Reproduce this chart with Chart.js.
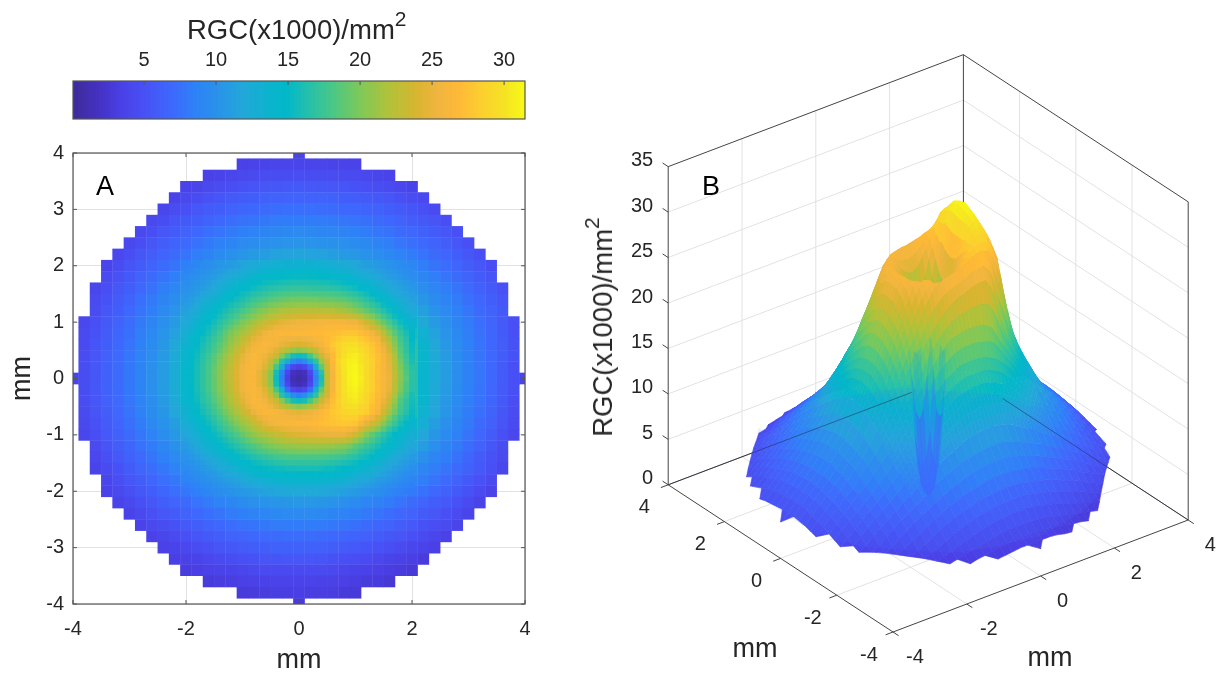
<!DOCTYPE html>
<html><head><meta charset="utf-8">
<script src="https://cdn.jsdelivr.net/npm/chart.js@4"></script>
<style>
html,body{margin:0;padding:0;background:#fff;width:1219px;height:677px;overflow:hidden}
canvas{position:absolute;display:block}
.t{position:absolute;font:27.5px "Liberation Sans",Arial,sans-serif;color:#262626;white-space:nowrap;line-height:32px}
.t sup{font-size:21px;line-height:0;vertical-align:baseline;position:relative;top:-13px}
</style></head><body>
<canvas id="bar" width="560" height="130" style="left:0;top:0"></canvas>
<canvas id="map" width="560" height="547" style="left:0;top:130px"></canvas>
<canvas id="surf" width="659" height="677" style="left:560px;top:0"></canvas>
<div class="t" style="left:187px;top:14px">RGC(x1000)/mm<sup>2</sup></div>
<div class="t" style="left:603px;top:327px;transform:translate(-50%,-50%) rotate(-90deg)">RGC(x1000)/mm<sup>2</sup></div>
<script>
// value range and ticks
const colorMin = 0.07, colorMax = 31.45;
const colorbarTicks = [5,10,15,20,25,30];
const mapXTicks = [-4,-2,0,2,4];
const mapYTicks = [-4,-3,-2,-1,0,1,2,3,4];
const surfXYTicks = [-4,-2,0,2,4];
const surfZTicks = [0,5,10,15,20,25,30,35];
const titleUnit = 'mm';
// colour map
const stopValues = [0,2,3.5,5,7,8.5,10,12,14,15,16.5,18,20,22,24,25.5,27,28.5,30,31.5];
const stopColors = ['#3d2b97','#4532c4','#4a40e6','#4850f5','#3e68fd','#2f80f8','#2a90ec','#22a8d8','#08b5cc','#02b8c8','#26c0ab','#45c78a','#7cc95a','#b0c23a','#d8b530','#f0b540','#ffb937','#fccf2f','#f5e125','#f8fa16'];
// density (x1000/mm2) on a 0.2 mm grid; rows run y = 4 .. -4, each centred on x = 0
const densityRows = [
[4],
[3.7,3.8,3.9,4,4,4,4,4,3.9,3.8,3.8],
[3.7,3.9,4.1,4.3,4.5,4.6,4.7,4.7,4.8,4.7,4.7,4.6,4.5,4.4,4.2,4,3.8],
[3.8,4,4.3,4.6,4.8,5.1,5.3,5.5,5.6,5.7,5.7,5.7,5.6,5.5,5.4,5.2,5,4.7,4.5,4.2,3.9],
[3.9,4.3,4.7,5.1,5.4,5.7,6,6.2,6.4,6.5,6.5,6.6,6.5,6.5,6.4,6.2,6.1,5.8,5.6,5.3,5,4.6,4.3],
[4.1,4.6,5,5.5,5.9,6.2,6.5,6.8,7,7.2,7.3,7.4,7.4,7.4,7.3,7.2,7,6.9,6.6,6.4,6.1,5.8,5.4,5,4.5],
[4.3,4.7,5.3,5.8,6.2,6.6,7,7.3,7.6,7.8,8,8.2,8.3,8.3,8.3,8.2,8.1,7.9,7.7,7.5,7.2,6.9,6.5,6.1,5.7,5.3,4.8],
[4.3,4.8,5.5,6,6.5,7,7.4,7.7,8.1,8.5,8.8,9,9.2,9.3,9.4,9.3,9.2,9.1,8.9,8.6,8.3,7.9,7.6,7.2,6.9,6.4,6,5.5,5],
[4.3,4.8,5.5,6.1,6.6,7.1,7.6,8.1,8.6,9,9.4,9.8,10,10.2,10.3,10.4,10.3,10.2,10.1,9.9,9.6,9.3,8.9,8.4,7.9,7.5,7.1,6.6,6.1,5.5,5],
[4.2,4.8,5.5,6.1,6.7,7.2,7.8,8.4,9,9.5,10,10.4,10.8,11.1,11.5,11.6,11.7,11.6,11.5,11.2,10.9,10.6,10.2,9.8,9.3,8.8,8.3,7.7,7.2,6.7,6.2,5.6,5],
[4,4.6,5.3,6,6.6,7.2,7.8,8.5,9.2,9.8,10.4,10.9,11.6,12.2,12.8,13,13.3,13.4,13.3,13.1,12.8,12.4,11.9,11.2,10.7,10.2,9.6,9.1,8.4,7.8,7.3,6.7,6.1,5.6,4.8],
[4.4,5.1,5.8,6.5,7.2,7.8,8.5,9.3,10,10.6,11.4,12.3,13,13.8,14.5,14.9,15.1,15.2,15.1,15,14.6,14.1,13.4,12.7,11.9,11.1,10.4,9.8,9.2,8.4,7.8,7.2,6.6,6,5.3],
[4.1,4.8,5.6,6.2,7,7.6,8.4,9.2,10,10.7,11.6,12.7,13.7,14.7,15.5,16.2,16.7,17.1,17.2,17.1,17,16.8,16.3,15.6,14.6,13.5,12.3,11.3,10.5,9.8,9.1,8.4,7.8,7.1,6.4,5.8,5.1],
[4.4,5.2,5.9,6.6,7.4,8.1,9,9.8,10.6,11.6,12.8,14,15.1,16.2,17.3,18.1,18.9,19.4,19.6,19.5,19.4,19.4,19,18.3,17.2,15.9,14.3,12.8,11.5,10.5,9.6,8.9,8.2,7.5,6.9,6.2,5.5],
[4.7,5.5,6.2,7,7.7,8.5,9.4,10.3,11.3,12.6,14,15.3,16.6,17.9,19.3,20.5,21.5,22,22.3,22.2,22.3,22.3,22.2,21.5,20.2,18.5,16.5,14.5,12.8,11.3,10.2,9.4,8.6,7.9,7.2,6.5,5.8],
[4.2,5,5.8,6.5,7.3,8.1,9,9.9,10.8,12.1,13.6,15,16.5,18.1,19.9,21.5,22.9,24.2,24.9,25.2,25.4,25.6,25.8,25.8,25.5,24.5,22.5,19.8,16.8,14.2,12.2,10.9,9.9,9,8.2,7.4,6.7,5.9,5],
[4.4,5.2,6,6.8,7.5,8.4,9.3,10.3,11.4,12.8,14.4,15.9,17.7,20,21.7,23.6,25.4,26.3,26.5,26.6,26.8,27,27.3,27.8,28,27.3,26,23.6,19.5,15.8,13.2,11.5,10.3,9.3,8.4,7.6,6.8,6,5],
[4.5,5.4,6.2,7,7.7,8.6,9.6,10.6,11.9,13.4,15,16.8,18.7,21,23.3,25.6,26.4,25.7,24.2,23.8,24.5,26,28,29.5,29.8,28.8,27.5,25,20.5,16.5,13.8,12,10.6,9.5,8.6,7.7,6.9,6.1,5.2],
[4.6,5.5,6.3,7.1,7.9,8.8,9.8,10.8,12.3,14,15.6,17.5,19.8,22.2,24.8,26.5,25.4,22.4,18.3,15,18.5,23,27,30,30.8,29.3,27.6,25.2,20.5,16.8,14,12.2,10.8,9.6,8.7,7.8,7,6.1,5.2],
[4.7,5.6,6.4,7.2,8,9,10,11,12.5,14.2,15.9,17.9,20.4,22.8,25.5,26.4,23.8,18,4.5,2.5,4.8,18.5,26,30.3,31.2,29.5,27.2,25,20.3,16.6,14,12.3,11,9.7,8.7,7.9,7,6,5],
[4,4.7,5.6,6.4,7.2,8,9,10,11,12.6,14.3,16,18,20.5,23,25.5,26.3,23,14,2.5,0.8,2.5,14.5,26,30,31.4,29.5,27,25,20,16.5,14,12.3,11,9.7,8.7,7.9,7,6,5,4],
[4.7,5.6,6.4,7.2,8,9,10,11,12.5,14.2,15.9,17.9,20.3,22.7,25.4,26.4,23.9,18.5,5.5,3,5.5,19,26,30,31,29.6,27.2,25,20.2,16.5,14,12.2,10.9,9.6,8.6,7.8,6.9,5.9,4.9],
[4.6,5.5,6.3,7.1,7.9,8.8,9.8,10.8,12.2,13.9,15.5,17.4,19.6,22,24.5,26.4,25.7,23,20,17.5,20,24,27.3,29.8,30.5,29.3,27.5,25,20,16.3,13.8,12,10.6,9.5,8.5,7.7,6.8,5.8,4.8],
[4.5,5.3,6.1,6.9,7.7,8.6,9.6,10.5,11.8,13.3,15,16.6,18.5,20.8,22.9,25.2,26.5,26.2,25.2,24.7,25.3,26.6,28,29,29.3,28.7,27.3,24.3,19.5,16,13.5,11.8,10.4,9.3,8.3,7.5,6.6,5.6,4.6],
[4.3,5.1,5.9,6.7,7.5,8.3,9.3,10.2,11.2,12.7,14.2,15.6,17.3,19.2,21.2,22.9,24.8,25.9,26.4,26.6,26.8,27.2,27.7,28,28,27.3,25.7,22.5,18.5,15.2,12.9,11.2,10,9,8.1,7.2,6.3,5.3,4.4],
[4.1,4.8,5.7,6.4,7.2,7.9,8.8,9.8,10.7,11.8,13.2,14.6,16,17.5,19.1,20.8,22,23,23.8,24.1,24.3,24.7,25,25.2,25,24,21.8,19,16,13.6,11.8,10.5,9.5,8.6,7.7,6.9,6,5,4.2],
[4.5,5.3,6.1,6.8,7.6,8.3,9.2,10.1,10.9,12.2,13.4,14.7,15.9,17.2,18.4,19.5,20.4,20.9,21.1,21.2,21.4,21.5,21.3,20.8,19.6,18,16,14,12.3,11,9.9,9,8.1,7.3,6.5,5.6,4.7],
[4.2,5,5.7,6.4,7.1,7.8,8.6,9.4,10.2,11,12.2,13.3,14.4,15.4,16.3,17.1,17.7,18.1,18.2,18.2,18.2,18.1,17.8,17.2,16.3,15,13.6,12.2,11,10,9.1,8.4,7.6,6.8,6,5.2,4.4],
[3.9,4.5,5.2,6,6.7,7.3,8,8.8,9.5,10.2,11,11.9,12.8,13.7,14.5,15.1,15.5,15.8,15.9,15.9,15.8,15.6,15.2,14.6,13.8,12.8,11.7,10.8,9.9,9.1,8.4,7.8,7.1,6.4,5.7,4.9,4.1],
[4.1,4.8,5.5,6.2,6.8,7.4,8,8.8,9.4,10,10.7,11.3,12,12.7,13.2,13.7,13.9,14,14,13.8,13.6,13.2,12.6,11.9,11.1,10.4,9.7,9,8.4,7.8,7.1,6.5,5.8,5.1,4.4],
[3.8,4.3,5,5.6,6.2,6.8,7.4,7.9,8.5,9.2,9.7,10.2,10.7,11,11.5,11.8,12,12.1,12.1,12,11.7,11.3,10.8,10.3,9.8,9.2,8.6,8.1,7.6,7,6.4,5.8,5.2,4.5,3.8],
[3.9,4.3,5,5.6,6.2,6.7,7.2,7.7,8.2,8.8,9.2,9.6,10,10.2,10.4,10.5,10.6,10.6,10.5,10.2,9.9,9.5,9.1,8.7,8.2,7.7,7.2,6.7,6.2,5.7,5.1,4.5,3.9],
[3.9,4.3,4.9,5.5,6,6.5,7,7.4,7.8,8.2,8.5,8.9,9.1,9.3,9.4,9.4,9.4,9.3,9,8.8,8.5,8.1,7.7,7.3,6.9,6.5,6,5.5,5,4.5,4],
[3.8,4.3,4.7,5.2,5.7,6.2,6.6,7,7.3,7.6,7.8,8,8.2,8.3,8.3,8.3,8.2,8,7.8,7.5,7.2,6.8,6.5,6.1,5.7,5.2,4.8,4.4,4],
[3.7,4.1,4.5,5,5.4,5.8,6.2,6.5,6.7,7,7.1,7.2,7.3,7.3,7.3,7.2,7,6.8,6.6,6.3,6,5.6,5.3,4.9,4.5,4.1,3.7],
[3.6,3.9,4.2,4.6,5,5.3,5.6,5.9,6.1,6.2,6.4,6.4,6.4,6.4,6.3,6.1,5.9,5.7,5.4,5.1,4.8,4.5,4.1,3.8,3.5],
[3.4,3.6,3.9,4.2,4.4,4.7,5,5.2,5.3,5.4,5.5,5.5,5.5,5.4,5.2,5,4.8,4.5,4.2,3.9,3.7,3.4,3.1],
[3.2,3.4,3.6,3.8,3.9,4.1,4.3,4.4,4.5,4.5,4.5,4.5,4.4,4.3,4.1,3.9,3.7,3.5,3.3,3.1,2.9],
[3,3.2,3.3,3.5,3.6,3.7,3.8,3.8,3.8,3.8,3.7,3.6,3.5,3.3,3.1,3,2.8],
[3,3.1,3.2,3.3,3.3,3.4,3.3,3.3,3.2,3,2.9],
[3]
];
// central region on a 0.1 mm grid; rows run y = 2 .. -2, columns x = -2 .. 2
const centreRows = [
[8.5,8.8,9.2,9.5,9.8,10.1,10.4,10.6,10.9,11.2,11.6,11.9,12.2,12.5,12.8,12.9,13,13.2,13.3,13.4,13.4,13.4,13.3,13.2,13.1,13,12.8,12.6,12.4,12.2,11.9,11.5,11.2,11,10.7,10.5,10.2,9.9,9.6,9.4,9.1],
[8.9,9.3,9.6,9.9,10.2,10.6,10.9,11.3,11.6,12,12.3,12.7,13,13.4,13.7,13.8,14,14.1,14.2,14.3,14.3,14.3,14.2,14.2,14.1,13.9,13.7,13.5,13.3,13,12.7,12.3,12,11.7,11.3,11,10.7,10.4,10,9.8,9.5],
[9.3,9.7,10,10.3,10.6,11,11.4,11.9,12.3,12.7,13,13.4,13.8,14.2,14.5,14.7,14.9,15,15.1,15.2,15.2,15.2,15.1,15.1,15,14.8,14.6,14.4,14.1,13.8,13.4,13.1,12.7,12.3,11.9,11.5,11.1,10.8,10.4,10.1,9.8],
[9.7,10,10.4,10.7,11.1,11.6,12.1,12.6,13,13.5,13.9,14.3,14.7,15.1,15.4,15.6,15.8,16,16.1,16.2,16.2,16.2,16.1,16.1,16,15.9,15.7,15.5,15.2,14.9,14.5,14.1,13.6,13.2,12.7,12.2,11.8,11.4,11,10.6,10.2],
[10,10.3,10.7,11.1,11.6,12.1,12.7,13.2,13.7,14.2,14.7,15.1,15.5,15.9,16.2,16.5,16.7,16.9,17.1,17.2,17.2,17.2,17.1,17,17,16.9,16.7,16.5,16.2,15.9,15.5,15,14.5,14,13.4,12.9,12.4,12,11.5,11,10.6],
[10.3,10.7,11.2,11.7,12.2,12.8,13.4,13.9,14.4,15,15.5,16,16.4,16.8,17.2,17.5,17.8,18,18.2,18.4,18.4,18.4,18.3,18.2,18.2,18.1,18,17.8,17.5,17.1,16.7,16.2,15.6,15,14.3,13.7,13.1,12.6,12,11.5,11],
[10.6,11.1,11.6,12.2,12.8,13.4,14,14.6,15.1,15.7,16.2,16.8,17.3,17.7,18.1,18.5,18.9,19.2,19.4,19.5,19.6,19.6,19.5,19.5,19.4,19.3,19.2,19,18.7,18.3,17.8,17.3,16.7,16,15.2,14.5,13.8,13.2,12.5,12,11.4],
[11,11.5,12.1,12.8,13.4,14,14.6,15.3,15.9,16.4,17,17.7,18.3,18.8,19.3,19.8,20.2,20.5,20.7,20.9,21,21,21,21,20.9,20.8,20.7,20.5,20.2,19.7,19.2,18.5,17.8,17.1,16.3,15.4,14.7,13.9,13.1,12.5,11.8],
[11.3,12,12.6,13.3,14,14.7,15.3,16,16.6,17.2,17.9,18.6,19.3,19.9,20.5,21,21.5,21.8,22,22.2,22.3,22.4,22.4,22.4,22.4,22.3,22.2,21.9,21.6,21.1,20.5,19.8,19,18.2,17.3,16.4,15.5,14.6,13.7,12.9,12.2],
[11.7,12.4,13.1,13.8,14.5,15.2,15.9,16.6,17.3,18.1,18.9,19.6,20.4,21,21.7,22.2,22.8,23.2,23.5,23.7,23.8,24,24,24,24.1,24.1,24,23.9,23.7,23.3,23,22.2,21.2,20.1,18.9,17.8,16.7,15.6,14.6,13.7,12.9],
[12.1,12.8,13.6,14.3,15,15.7,16.5,17.3,18.1,19,19.9,20.7,21.5,22.2,22.9,23.5,24.2,24.6,24.9,25.2,25.4,25.5,25.6,25.7,25.8,25.9,25.9,25.9,25.8,25.6,25.4,24.6,23.5,22,20.5,19.2,17.9,16.7,15.5,14.5,13.6],
[12.5,13.2,14,14.7,15.5,16.3,17.1,18.1,19,20,20.8,21.7,22.6,23.4,24.2,24.7,25.3,25.5,25.7,25.9,26,26.1,26.2,26.3,26.4,26.6,26.6,26.7,26.8,26.7,26.6,26,25,23.9,22.6,20.9,19.2,17.8,16.4,15.3,14.2],
[12.8,13.6,14.4,15.1,15.9,16.8,17.7,18.9,20,20.9,21.7,22.6,23.6,24.5,25.4,25.9,26.3,26.4,26.5,26.6,26.6,26.7,26.8,26.9,27,27.2,27.3,27.5,27.8,27.8,27.8,27.3,26.6,25.7,24.7,22.5,20.4,18.8,17.2,16,14.8],
[13.1,13.9,14.7,15.5,16.4,17.3,18.2,19.4,20.5,21.5,22.5,23.5,24.6,25.3,25.9,26,26,25.7,25.5,25.4,25.3,25.5,25.7,26.1,26.5,27.1,27.6,28.1,28.6,28.8,28.8,28.2,27.6,26.7,25.8,23.8,21.7,19.7,17.7,16.4,15],
[13.4,14.2,15,15.9,16.8,17.7,18.7,19.8,21,22.1,23.3,24.4,25.6,26,26.4,26.1,25.7,25,24.5,24.2,24,24.2,24.6,25.3,26,27,28,28.8,29.5,29.7,29.8,29.2,28.5,27.7,26.8,25,23,20.5,18.2,16.7,15.3],
[13.7,14.5,15.3,16.2,17.1,18.1,19.2,20.4,21.6,22.8,24,25.1,26,26.2,26.2,25.6,24.5,23,22,21,20.5,21,22,23.2,25,26.2,27.5,28.7,29.7,30.1,30.3,29.6,28.9,28,27.1,25.5,23.8,21.2,18.6,17,15.5],
[14,14.8,15.6,16.5,17.5,18.6,19.8,21,22.2,23.5,24.8,25.7,26.5,26,25.4,24.5,23,20.5,18,16,15.5,16,18,20.5,23.2,25.2,27,28.7,30,30.5,30.8,30.1,29.3,28.3,27.4,26.1,24.6,22,19,17.3,15.8],
[14.1,14.9,15.8,16.7,17.7,18.8,20.1,21.3,22.5,23.8,25,25.9,26.5,26,25,23.2,20.5,16.5,13,9.5,8.5,9.5,13,17,21,24.2,27,29,30.3,30.8,31,30.2,29.4,28.4,27.4,26.2,24.8,22.2,19.5,17.6,16.1],
[14.2,15,15.9,16.9,17.9,19.1,20.4,21.6,22.8,24.2,25.5,26.3,26.4,25.7,24.4,22,18,13,7,4.2,3.5,4.2,7,13.5,19,23.5,26.5,28.7,30.3,31,31.2,30.4,29.5,28.4,27.3,26.2,25,22.5,20,18,16.5],
[14.3,15.1,15.9,17,18,19.3,20.5,21.8,22.9,24.3,25.5,26.2,26.4,25,23.5,20.8,15.8,9,4.2,1.8,1.3,1.8,4.2,9.5,16.5,23,26.2,28.5,30.2,31.1,31.3,30.5,29.5,28.4,27.3,26.3,25.2,22.8,20.3,18.4,16.7],
[14.3,15.1,16,17,18,19.2,20.5,21.8,23,24.3,25.5,26.1,26.3,25,23.4,20.5,15.5,8.5,3.5,1.3,0.8,1.3,3.5,9,16,23,26,28.4,30,31,31.4,30.7,29.5,28.3,27.3,26.5,25.3,23,20.5,18.5,16.8],
[14.2,15,16,17,18,19.2,20.4,21.7,22.9,24.2,25.4,26.2,26.4,25,23.5,20.8,15.8,9,4.2,1.8,1.3,1.8,4.2,9.5,16.5,23,26.1,28.4,30,30.9,31.2,30.5,29.5,28.4,27.3,26.3,25.1,22.6,20.2,18.2,16.6],
[14.2,15,15.9,16.9,17.9,19.1,20.3,21.5,22.7,24.1,25.4,26.3,26.4,25.7,24.4,22,18,13,7,4.2,3.5,4.2,7,13.5,19,23.5,26.2,28.4,30,30.7,31,30.3,29.5,28.4,27.3,26.2,25,22.5,20,18.2,16.5],
[14,14.8,15.7,16.6,17.6,18.7,19.9,21.1,22.3,23.6,24.9,25.8,26.4,26,25,23.2,20.5,16.5,13,9.5,8.5,9.5,13,17,21,24,26.8,28.3,29.9,30.5,30.8,30,29.2,28.1,27.1,25.9,24.3,21.8,19.2,17.5,16],
[13.9,14.7,15.5,16.5,17.4,18.5,19.6,20.8,22,23.2,24.5,25.6,26.4,26.2,25.7,24.5,23,20.5,18,16,15.5,16,18,20.5,23.2,25,27.3,28.6,29.8,30.2,30.5,29.8,29,27.9,26.8,25.2,23.6,21,18.4,17,15.8],
[13.6,14.4,15.2,16.1,17,18,19.2,20.3,21.4,22.6,23.7,24.9,25.9,26.4,26.1,25.6,24.5,23,22,21,20.5,21,22,23.3,25,26.3,27.7,28.3,29.4,29.6,29.9,29.2,28.7,27.4,26.4,24.5,22.6,20.2,18,16.8,15.5],
[13.3,14.2,15,15.8,16.6,17.5,18.5,19.6,20.8,21.8,22.9,24,25.2,25.9,26.5,26.4,26.2,25.7,25.2,24.9,24.7,25,25.3,25.9,26.6,27.3,28,28.5,29,29.2,29.3,28.8,28.3,27.2,26,23.8,21.5,19.5,17.6,16.4,15.3],
[13,13.8,14.6,15.3,16.1,17,17.9,18.9,20,21,22,23,24,24.9,25.6,25.9,26,26,25.8,25.7,25.6,25.9,26,26.4,26.9,27.4,27.8,28.2,28.5,28.5,28.5,27.6,26.6,25.5,24.2,22.2,20,18.4,16.8,15.7,14.6],
[12.7,13.4,14.2,14.9,15.6,16.4,17.3,18.2,19.2,20.2,21.2,22,22.9,23.9,24.8,25.4,25.9,26.2,26.4,26.5,26.6,26.7,26.8,27,27.2,27.5,27.7,27.9,28,27.9,27.7,26.4,25,23.8,22.5,20.5,18.6,17.3,16,15,14],
[12.2,13,13.7,14.4,15.1,15.8,16.7,17.5,18.3,19.2,20.1,21,21.8,22.6,23.4,24,24.4,24.8,25.1,25.3,25.4,25.6,25.7,25.9,26.1,26.3,26.4,26.5,26.6,26.2,25.6,24.2,22.6,21.4,20.1,18.6,17.2,16.1,15.1,14.3,13.4],
[11.8,12.5,13.2,13.9,14.6,15.3,16,16.8,17.5,18.3,19.1,20,20.8,21.4,22,22.5,23,23.4,23.8,24.1,24.3,24.5,24.6,24.8,25,25.1,25.2,25.2,25.2,24.5,23.6,22,20.3,19,17.8,16.8,15.8,15,14.3,13.6,12.9],
[11.3,12,12.7,13.3,14,14.6,15.3,16,16.7,17.4,18.1,18.9,19.6,20.2,20.7,21.2,21.7,22,22.3,22.5,22.7,22.8,22.9,23,23.1,23.1,23.1,22.9,22.8,22.1,21.2,20,18.8,17.9,16.9,16,15.2,14.4,13.7,13,12.4],
[10.9,11.5,12.2,12.8,13.4,14,14.7,15.3,15.9,16.5,17.2,17.8,18.4,19,19.5,20,20.4,20.7,20.9,21,21.1,21.2,21.2,21.2,21.2,21.1,21,20.7,20.4,19.7,18.8,18.1,17.4,16.7,16,15.3,14.6,13.9,13.2,12.5,11.9],
[10.5,11,11.6,12.2,12.8,13.4,14,14.6,15.1,15.7,16.3,16.9,17.4,17.9,18.3,18.7,19,19.3,19.5,19.6,19.7,19.7,19.7,19.7,19.6,19.5,19.4,19.2,18.9,18.3,17.7,17,16.4,15.8,15.1,14.4,13.8,13.1,12.5,12,11.4],
[10.2,10.6,11,11.6,12.2,12.7,13.3,13.8,14.4,14.9,15.4,15.9,16.3,16.7,17.1,17.4,17.7,17.9,18.1,18.2,18.2,18.2,18.2,18.2,18.1,18,17.8,17.6,17.3,16.9,16.5,16,15.5,14.8,14.2,13.6,13,12.4,11.9,11.4,10.9],
[9.9,10.2,10.6,11.1,11.6,12,12.6,13,13.6,14,14.5,15,15.4,15.7,16.1,16.3,16.6,16.8,16.9,17,17,17,17,17,16.9,16.8,16.6,16.4,16.1,15.8,15.4,15,14.5,14,13.4,12.9,12.3,11.8,11.3,10.9,10.4],
[9.5,9.9,10.2,10.6,11,11.4,11.9,12.3,12.8,13.2,13.7,14.1,14.5,14.8,15.1,15.3,15.5,15.6,15.8,15.8,15.9,15.9,15.9,15.9,15.8,15.6,15.5,15.2,15,14.7,14.4,14,13.6,13.1,12.7,12.2,11.7,11.2,10.8,10.3,9.9],
[9.1,9.5,9.8,10.1,10.5,10.9,11.3,11.7,12,12.4,12.8,13.2,13.6,13.9,14.2,14.4,14.6,14.7,14.8,14.9,15,15,15,14.9,14.8,14.6,14.5,14.3,14.1,13.8,13.5,13.1,12.8,12.3,11.9,11.5,11,10.6,10.2,9.8,9.4],
[8.8,9.1,9.4,9.7,10,10.3,10.7,11,11.3,11.6,12,12.4,12.7,13,13.2,13.5,13.7,13.8,13.9,14,14,14,14,13.9,13.8,13.7,13.6,13.4,13.2,12.9,12.6,12.2,11.9,11.5,11.1,10.8,10.4,10,9.7,9.3,9],
[8.3,8.6,9,9.3,9.6,9.9,10.2,10.5,10.8,11.1,11.4,11.7,11.9,12.1,12.4,12.6,12.8,12.9,13,13,13.1,13,13,13,12.9,12.8,12.7,12.4,12.3,12,11.7,11.4,11.1,10.8,10.4,10.1,9.8,9.4,9.1,8.8,8.5],
[7.9,8.2,8.5,8.8,9.2,9.4,9.7,10,10.2,10.5,10.7,10.9,11,11.3,11.5,11.7,11.8,11.9,12,12.1,12.1,12.1,12.1,12.1,12,11.9,11.7,11.5,11.3,11.1,10.8,10.6,10.3,10,9.8,9.5,9.2,8.9,8.6,8.3,8.1]
];

const FONT = '"Liberation Sans", Arial, sans-serif';
const INK = '#262626';
const BOX = '#555';
const GRID = '#e2e2e2';

function hex(c){return [1,3,5].map(i=>parseInt(c.substr(i,2),16));}
function colorOf(v,alpha){
  let i=0; while(i<stopValues.length-2 && v>stopValues[i+1]) i++;
  const t=Math.max(0,Math.min(1,(v-stopValues[i])/(stopValues[i+1]-stopValues[i])));
  const a=hex(stopColors[i]),b=hex(stopColors[i+1]);
  const m=a.map((q,k)=>Math.round(q+(b[k]-q)*t));
  return alpha===undefined?`rgb(${m})`:`rgba(${m},${alpha})`;
}
const base={responsive:false,animation:false,events:[],plugins:{legend:{display:false},tooltip:{enabled:false}}};

function framePlugin(xs,ys,len){return {id:'frame',afterDraw(c){
  const {ctx,chartArea:a,scales}=c;ctx.save();ctx.strokeStyle=BOX;ctx.lineWidth=1;ctx.beginPath();
  xs.forEach(v=>{const p=scales.x.getPixelForValue(v);ctx.moveTo(p,a.top);ctx.lineTo(p,a.top+len);if(ys){ctx.moveTo(p,a.bottom);ctx.lineTo(p,a.bottom-len);}});
  (ys||[]).forEach(v=>{const p=scales.y.getPixelForValue(v);ctx.moveTo(a.left,p);ctx.lineTo(a.left+len,p);ctx.moveTo(a.right,p);ctx.lineTo(a.right-len,p);});
  ctx.stroke();ctx.lineWidth=1.2;ctx.strokeRect(a.left,a.top,a.right-a.left,a.bottom-a.top);ctx.restore();
}};}

/* colour bar */
const colorLevels=[];for(let v=colorMin;v<=colorMax+0.25;v+=0.25)colorLevels.push(v);
new Chart(document.getElementById('bar'),{type:'bar',
  data:{datasets:[{data:colorLevels.map(v=>({x:v,y:[0,1]})),backgroundColor:colorLevels.map(v=>colorOf(v)),barThickness:5,borderWidth:0}]},
  options:{...base,layout:{padding:{left:73,right:35,top:0,bottom:11}},scales:{
    x:{type:'linear',position:'top',offset:false,min:colorMin,max:colorMax,afterBuildTicks(s){s.ticks=colorbarTicks.map(value=>({value}));},
       afterFit(s){s.height=81;},grid:{display:false},border:{display:false},
       ticks:{padding:1,maxRotation:0,color:INK,font:{family:FONT,size:20}}},
    y:{display:false,min:0,max:1}}},
  plugins:[framePlugin(colorbarTicks,null,4)]});

/* panel A */
const cells=[];
densityRows.forEach((row,i)=>{const h=(row.length-1)/2;row.forEach((v,j)=>cells.push({x:(j-h)*0.2,y:4-i*0.2,v}));});
const fineCells=[];
centreRows.forEach((row,i)=>row.forEach((v,j)=>fineCells.push({x:-2+j*0.1,y:2-i*0.1,v})));
const cellSet=(pts,step)=>({data:pts,pointStyle:'rect',borderWidth:0,pointBorderWidth:0,
    pointBackgroundColor:pts.map(c=>colorOf(c.v)),
    pointRadius(ctx){const a=ctx.chart.chartArea;return a?(a.width/8*step+0.4)/Math.SQRT2:4;}});
new Chart(document.getElementById('map'),{type:'scatter',
  data:{datasets:[cellSet(fineCells,0.1),cellSet(cells,0.2)]},
  options:{...base,layout:{padding:{left:0,right:35,top:23,bottom:0}},scales:{
    x:{type:'linear',min:-4,max:4,afterBuildTicks(s){s.ticks=mapXTicks.map(value=>({value}));},afterFit(s){s.height=73;},
       grid:{color:GRID,drawTicks:false},border:{display:false},ticks:{padding:13,maxRotation:0,color:INK,font:{family:FONT,size:20}},
       title:{display:true,text:titleUnit,color:INK,font:{family:FONT,size:27},padding:{top:0,bottom:0}}},
    y:{type:'linear',min:-4,max:4,afterBuildTicks(s){s.ticks=mapYTicks.map(value=>({value}));},afterFit(s){s.width=73;},
       grid:{color:GRID,drawTicks:false},border:{display:false},ticks:{padding:9,color:INK,font:{family:FONT,size:20}},
       title:{display:true,text:titleUnit,color:INK,font:{family:FONT,size:27},padding:{top:6,bottom:0}}}}},
  plugins:[framePlugin(mapXTicks,mapYTicks,4),{id:'tagA',afterDraw(c){const g=c.ctx;g.save();g.font='27px '+FONT;g.fillStyle='#000';g.textAlign='center';g.textBaseline='middle';g.fillText('A',105,58);g.restore();}}]});

/* panel B : orthographic view (az -37.5, el 30) of the same grids */
const view={ox:893,oy:632,xu:36.9,xv:14,yu:28.1,yv:18.4,zv:9.09};
const proj=(x,y,z)=>({x:view.ox+(x+4)*view.xu-(y+4)*view.yu,y:view.oy-(x+4)*view.xv-(y+4)*view.yv-z*view.zv});
const grid=densityRows.map(row=>{const h=(row.length-1)/2;const r=new Array(41).fill(null);row.forEach((v,j)=>r[20-h+j]=v);return r;});
// where both grids have a node, the finer reading applies
grid.forEach((r,i)=>r.forEach((v,j)=>{const a=(i-10)*2,b=(j-10)*2;if(v!==null&&a>=0&&a<=40&&b>=0&&b<=40)r[j]=centreRows[a][b];}));
const lineDs=(pts,color,w)=>({data:pts,showLine:true,fill:false,borderColor:color,borderWidth:w,pointRadius:0,tension:0,clip:false});
const quadDs=(pts,color,w)=>({data:[...pts,pts[0]],showLine:true,fill:'shape',backgroundColor:color,borderColor:color,borderWidth:w,pointRadius:0,tension:0.001,spanGaps:true});

function buildQuads(g,x0,y0,step,skip){
  const out=[];
  for(let i=0;i<g.length-1;i++)for(let j=0;j<g[i].length-1;j++){
    const n=[[i,j],[i,j+1],[i+1,j+1],[i+1,j]].filter(([a,b])=>g[a][b]!==null);
    if(n.length<3)continue;
    const zs=n.map(([a,b])=>g[a][b]);
    const xc=x0+(j+0.5)*step,yc=y0-(i+0.5)*step;
    if(skip&&skip(xc,yc))continue;
    out.push({depth:xc*0.609+yc*0.793,xc,yc,mean:zs.reduce((p,q)=>p+q,0)/zs.length,
      pts:n.map(([a,b])=>proj(x0+b*step,y0-a*step,g[a][b]))});
  }
  return out;
}
const fineQuads=buildQuads(centreRows,-2,2,0.1);
const quads=buildQuads(grid,-4,4,0.2,(x,y)=>Math.abs(x)<2&&Math.abs(y)<2).concat(fineQuads);
quads.sort((a,b)=>b.depth-a.depth);

const layers=[];
// back walls and floor
[-2,0,2].forEach(t=>{
  layers.push(lineDs([proj(t,4,0),proj(t,4,35)],GRID,1));
  layers.push(lineDs([proj(4,t,0),proj(4,t,35)],GRID,1));
  layers.push(lineDs([proj(t,-4,0),proj(t,4,0)],GRID,1));
  layers.push(lineDs([proj(-4,t,0),proj(4,t,0)],GRID,1));
});
surfZTicks.slice(1,-1).forEach(z=>{
  layers.push(lineDs([proj(-4,4,z),proj(4,4,z)],GRID,1));
  layers.push(lineDs([proj(4,4,z),proj(4,-4,z)],GRID,1));
});
// box
[[[-4,4,35],[4,4,35]],[[4,4,35],[4,-4,35]],[[-4,4,0],[-4,4,35]],[[4,4,0],[4,4,35]],[[4,-4,0],[4,-4,35]],
 [[-4,4,0],[4,4,0]],[[4,4,0],[4,-4,0]],[[-4,-4,0],[-4,4,0]],[[-4,-4,0],[4,-4,0]]].forEach(([a,b])=>layers.push(lineDs([proj(...a),proj(...b)],'#444',1)));
// tick marks
surfZTicks.forEach(z=>layers.push(lineDs([proj(-4,4,z),proj(-4,4.2,z)],'#444',1)));
surfXYTicks.forEach(t=>{
  layers.push(lineDs([proj(t,-4,0),proj(t,-4.2,0)],'#444',1));
  layers.push(lineDs([proj(-4,t,0),proj(-4.2,t,0)],'#444',1));
});
// surface, far to near
quads.forEach(q=>layers.push(quadDs(q.pts,colorOf(q.mean),0.7)));
// translucent sheet at the level of the rim
const rim=[];
const rimZ=(x,y)=>(x*0.609+y*0.793>1.5)?2.6:4.4;
grid.forEach((r,i)=>{const j=r.findLastIndex(v=>v!==null);const x=-4+j*0.2,y=4-i*0.2;rim.push(proj(x,y,rimZ(x,y)));});
for(let i=40;i>=0;i--){const j=grid[i].findIndex(v=>v!==null);const x=-4+j*0.2,y=4-i*0.2;rim.push(proj(x,y,rimZ(x,y)));}
layers.push(quadDs(rim,'rgba(70,120,250,0.13)',0));
// the far wall of the central pit shows through the near slope
fineQuads.filter(q=>Math.hypot(q.xc,q.yc)<0.55&&q.depth>-0.02&&q.mean<13.5).sort((a,b)=>b.depth-a.depth)
     .forEach(q=>layers.push(quadDs(q.pts,colorOf(Math.max(q.mean,7),Math.max(0.2,0.9*(1-q.mean/18))),0.3)));
// floor edges seen through the sheet
layers.push(lineDs([proj(-4,4,0),proj(2.6,4,0)],'rgba(30,30,60,0.45)',1));
layers.push(lineDs([proj(4,2.6,0),proj(4,-4,0)],'rgba(30,30,60,0.45)',1));

new Chart(document.getElementById('surf'),{type:'scatter',
  data:{datasets:layers.reverse()},
  options:{...base,layout:{padding:0},scales:{
    x:{type:'linear',display:false,min:560,max:1219},
    y:{type:'linear',display:false,min:0,max:677,reverse:true}}},
  plugins:[{id:'labels3d',afterDraw(c){
    const g=c.ctx,sx=c.scales.x,sy=c.scales.y;g.save();
    g.fillStyle=INK;g.font='20px '+FONT;g.textBaseline='middle';
    const at=(t,p,dx,dy,al)=>{g.textAlign=al;g.fillText(t,sx.getPixelForValue(p.x+dx),sy.getPixelForValue(p.y+dy));};
    surfZTicks.forEach(z=>at(String(z),proj(-4,4,z),-15,-6,'right'));
    surfXYTicks.forEach(t=>{at(String(t),proj(-4,t,0),-24,23,'center');at(String(t),proj(t,-4,0),22,25,'center');});
    g.font='27px '+FONT;g.textAlign='center';
    g.fillText(titleUnit,sx.getPixelForValue(755),sy.getPixelForValue(650));
    g.fillText(titleUnit,sx.getPixelForValue(1050),sy.getPixelForValue(659));
    g.fillStyle='#000';g.fillText('B',sx.getPixelForValue(711),sy.getPixelForValue(188));
    g.restore();
  }}]});
</script>
</body></html>
